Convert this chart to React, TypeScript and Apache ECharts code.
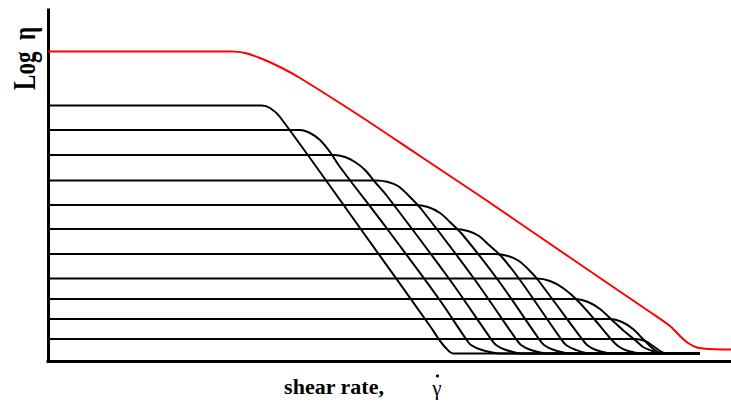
import React, { useEffect, useRef } from "react";
import * as echarts from "echarts";

// Data units: x = log shear rate (arbitrary), y = log viscosity (arbitrary)
const redCurve: [number, number][] = [
  [0, 309.5], [184, 309.5], [197, 308], [212, 303], [232, 294], [252, 283],
  [312, 245], [372, 205], [432, 165], [492, 124], [552, 83], [602, 49],
  [622, 35], [632, 25], [640, 18], [649, 13.5], [662, 12], [683, 11.5],
];

const curve1: [number, number][] = [
  [0, 255.5], [214, 255.5], [222, 253], [232, 244], [312, 133], [382, 35],
  [390, 23], [397, 14], [405, 7.5], [652, 7.5],
];
const curve2: [number, number][] = [
  [0, 231], [252, 231], [262, 228], [272, 221], [282, 209], [292, 194],
  [340, 131], [391, 62], [418, 22], [423, 16], [434, 11], [452, 7.5], [652, 7.5],
];
const curve3: [number, number][] = [
  [0, 206], [286, 206], [297, 204], [307, 199], [317, 191], [327, 179],
  [339, 165], [402, 81], [443, 22], [448, 16], [458, 11], [474, 7.5], [652, 7.5],
];
const curve4: [number, number][] = [
  [0, 180.5], [329, 180.5], [340, 179], [350, 175], [360, 166], [374, 151],
  [427, 81], [468, 22], [473, 16], [483, 11], [499, 7.5], [652, 7.5],
];
const curve5: [number, number][] = [
  [0, 156], [367, 156], [380, 154], [392, 148], [402, 139], [414, 127],
  [450, 81], [491, 22], [496, 16], [506, 11], [522, 7.5], [652, 7.5],
];
const curve6: [number, number][] = [
  [0, 132], [407, 132], [420, 130], [431, 125], [441, 116], [453, 105],
  [472, 81], [513, 22], [518, 16], [528, 11], [542, 7.5], [652, 7.5],
];
const curve7: [number, number][] = [
  [0, 107], [447, 107], [460, 105], [471, 100], [481, 91], [490, 81],
  [534, 22], [539, 16], [548, 11], [564, 7.5], [652, 7.5],
];
const curve8: [number, number][] = [
  [0, 82.5], [489, 82.5], [502, 80], [515, 73], [529, 61], [547, 41],
  [562, 23], [570, 15], [580, 10], [594, 7.5], [652, 7.5],
];
const curve9: [number, number][] = [
  [0, 62], [527, 62], [540, 59], [552, 52], [564, 41], [576, 30],
  [587, 21], [595, 14], [604, 10], [610, 7.5], [652, 7.5],
];
const curve10: [number, number][] = [
  [0, 42], [562, 42], [574, 39], [585, 32], [594, 23], [602, 15],
  [608, 10], [614, 7.5], [652, 7.5],
];
const curve11: [number, number][] = [
  [0, 22], [587, 22], [597, 20], [605, 15], [612, 10], [618, 7.5], [652, 7.5],
];

const blackCurves = [
  curve1, curve2, curve3, curve4, curve5, curve6,
  curve7, curve8, curve9, curve10, curve11,
];

const xLabel = "shear rate,";
const xSymbol = "\u03B3";
const yLabel = "Log  \u03B7";

export default function App() {
  const ref = useRef<HTMLDivElement>(null);
  useEffect(() => {
    if (!ref.current) return;
    const chart = echarts.init(ref.current, undefined, { renderer: "svg" });
    const lineSeries = (data: [number, number][], color: string) => ({
      type: "line",
      data,
      showSymbol: false,
      symbol: "none",
      smooth: 0.3,
      lineStyle: { color, width: 2, join: "round" },
      z: 3,
    });
    const labelFont = {
      fontFamily: '"Liberation Serif", "Times New Roman", serif',
      fontWeight: "bold",
      fill: "#000",
    };
    chart.setOption({
      animation: false,
      backgroundColor: "#ffffff",
      grid: { left: 48, right: 0, top: 10, bottom: 44 },
      xAxis: {
        type: "value",
        min: 0,
        max: 683,
        axisLine: { show: true, onZero: false, lineStyle: { color: "#000", width: 3, cap: "square" } },
        axisTick: { show: false },
        axisLabel: { show: false },
        splitLine: { show: false },
      },
      yAxis: {
        type: "value",
        min: 0,
        max: 351,
        axisLine: { show: true, onZero: false, lineStyle: { color: "#000", width: 3, cap: "square" } },
        axisTick: { show: false },
        axisLabel: { show: false },
        splitLine: { show: false },
      },
      series: [
        ...blackCurves.map((c) => lineSeries(c, "#000000")),
        lineSeries(redCurve, "#ff0000"),
      ],
      graphic: [
        {
          type: "text",
          x: 24.5,
          y: 58.5,
          rotation: Math.PI / 2,
          scaleY: 1.35,
          style: {
            ...labelFont,
            text: yLabel,
            fontSize: 23,
            textAlign: "center",
            textVerticalAlign: "middle",
          },
        },
        {
          type: "text",
          x: 334,
          y: 386,
          style: {
            ...labelFont,
            text: xLabel,
            fontSize: 22,
            textAlign: "center",
            textVerticalAlign: "middle",
          },
        },
        {
          type: "text",
          x: 437,
          y: 388,
          style: {
            ...labelFont,
            text: xSymbol,
            fontSize: 21,
            fontWeight: "normal",
            textAlign: "center",
            textVerticalAlign: "middle",
          },
        },
        {
          type: "circle",
          shape: { cx: 437.5, cy: 376, r: 1.6 },
          style: { fill: "#000" },
        },
      ],
    });
    return () => chart.dispose();
  }, []);
  return <div ref={ref} style={{ width: 731, height: 405, position: "absolute", left: 0, top: 0 }} />;
}
